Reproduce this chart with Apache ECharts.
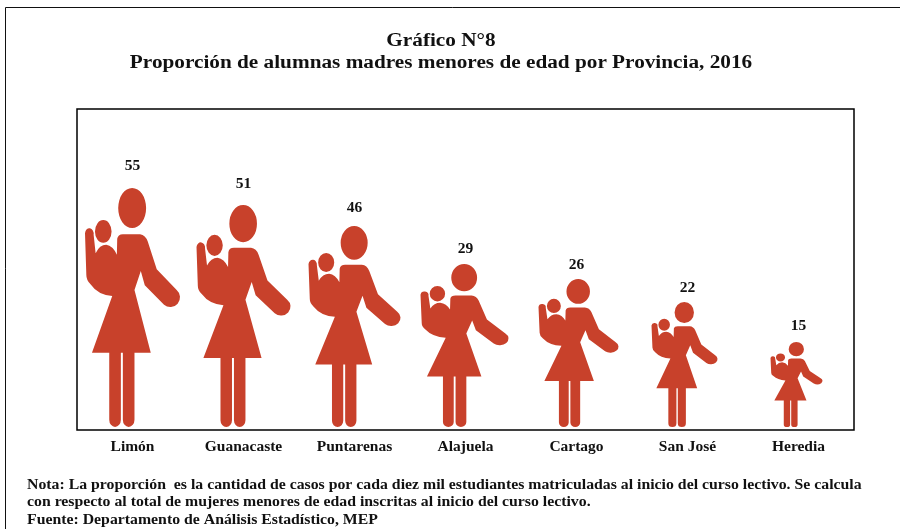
<!DOCTYPE html>
<html>
<head>
<meta charset="utf-8">
<title>Gráfico N°8</title>
<script src="https://cdn.jsdelivr.net/npm/echarts@6/dist/echarts.min.js"></script>
<style>
  html, body { margin: 0; background: #fff; }
  #chart { width: 900px; height: 529px; }
</style>
</head>
<body>
<div id="chart"></div>
<script>
const provinces = ['Limón', 'Guanacaste', 'Puntarenas', 'Alajuela', 'Cartago', 'San José', 'Heredia']
const proportions = [55, 51, 46, 29, 26, 22, 15]

const titleLines = [
  'Gráfico N°8',
  'Proporción de alumnas madres menores de edad por Provincia, 2016'
]
const noteLines = [
  'Nota: La proporción  es la cantidad de casos por cada diez mil estudiantes matriculadas al inicio del curso lectivo. Se calcula',
  'con respecto al total de mujeres menores de edad inscritas al inicio del curso lectivo.',
  'Fuente: Departamento de Análisis Estadístico, MEP'
]

// the icons in the picture are not to scale, so each one keeps its own drawn size
const iconSizes = [[95, 239], [94, 222], [92, 201], [88, 163], [80, 148], [66, 125], [52, 85]]
const iconNudges = [0, 0, 0, -1, 2, -3, -2]
const labelGaps = [14, 13, 10, 7, 6, 6, 8]

const gridTop = 109
const gridHeight = 321
const pxPerUnit = 239 / 55
const serif = '"Liberation Serif", serif'
const ink = '#111'

const motherPath = 'path://' +
  'M146 205A42 60 0 1 1 230 205A42 60 0 1 1 146 205Z' +
  'M76 275A25 34 0 1 1 126 275A25 34 0 1 1 76 275Z' +
  'M143 297Q145 283 160 283L212 283Q228 285 235 305L262 388L322 450A28 28 0 0 1 284 494' +
  'L226 436L214 393L195 450L244 638L195 638L195 838A17.5 22 0 0 1 160 838L160 638L154 638L154 838A17.5 22 0 0 1 119 838' +
  'L119 638L67 638L128 468Q85 465 62 432Q50 420 50 405L46 280A13 17 0 0 1 72 285L78 340' +
  'Q90 315 110 315Q130 318 142 345Z'

const chart = echarts.init(document.getElementById('chart'))

// the reference text is stretched sideways, hence the scaleX on the free text
chart.setOption({
  animation: false,
  grid: {
    show: true,
    left: 77,
    top: gridTop,
    width: 777,
    height: gridHeight,
    backgroundColor: '#fff',
    borderColor: '#000',
    borderWidth: 1.5
  },
  xAxis: {
    type: 'category',
    data: provinces,
    axisLine: { show: false },
    axisTick: { show: false },
    axisLabel: {
      margin: 9,
      fontFamily: serif,
      fontSize: 15.5,
      fontWeight: 'bold',
      color: ink
    }
  },
  yAxis: {
    type: 'value',
    show: false,
    min: -3 / pxPerUnit,
    max: (gridHeight - 3) / pxPerUnit,
    splitLine: { show: false }
  },
  series: [{
    type: 'pictorialBar',
    symbol: motherPath,
    symbolPosition: 'start',
    barCategoryGap: '0%',
    itemStyle: { color: '#c8412b' },
    data: proportions.map((value, i) => ({
      value,
      symbolSize: iconSizes[i],
      symbolOffset: [iconNudges[i], 0],
      label: {
        show: true,
        position: 'top',
        distance: 0,
        offset: [0, -labelGaps[i]],
        fontFamily: serif,
        fontSize: 15.5,
        fontWeight: 'bold',
        color: ink
      }
    }))
  }],
  graphic: [{
    type: 'polyline',
    silent: true,
    shape: { points: [[5.5, 529], [5.5, 7.5], [900, 7.5]] },
    style: { stroke: '#111', fill: null, lineWidth: 1 }
  }].concat(titleLines.map((line, i) => ({
    type: 'text',
    silent: true,
    x: 441,
    y: 32 + i * 22,
    scaleX: 1.18,
    style: { text: line, align: 'center', fontFamily: serif, fontSize: 18, fontWeight: 'bold', fill: ink }
  })), noteLines.map((line, i) => ({
    type: 'text',
    silent: true,
    x: 27,
    y: 478 + i * 17.5,
    scaleX: 1.128,
    style: { text: line, fontFamily: serif, fontSize: 14, fontWeight: 'bold', fill: ink }
  })))
})
</script>
</body>
</html>
